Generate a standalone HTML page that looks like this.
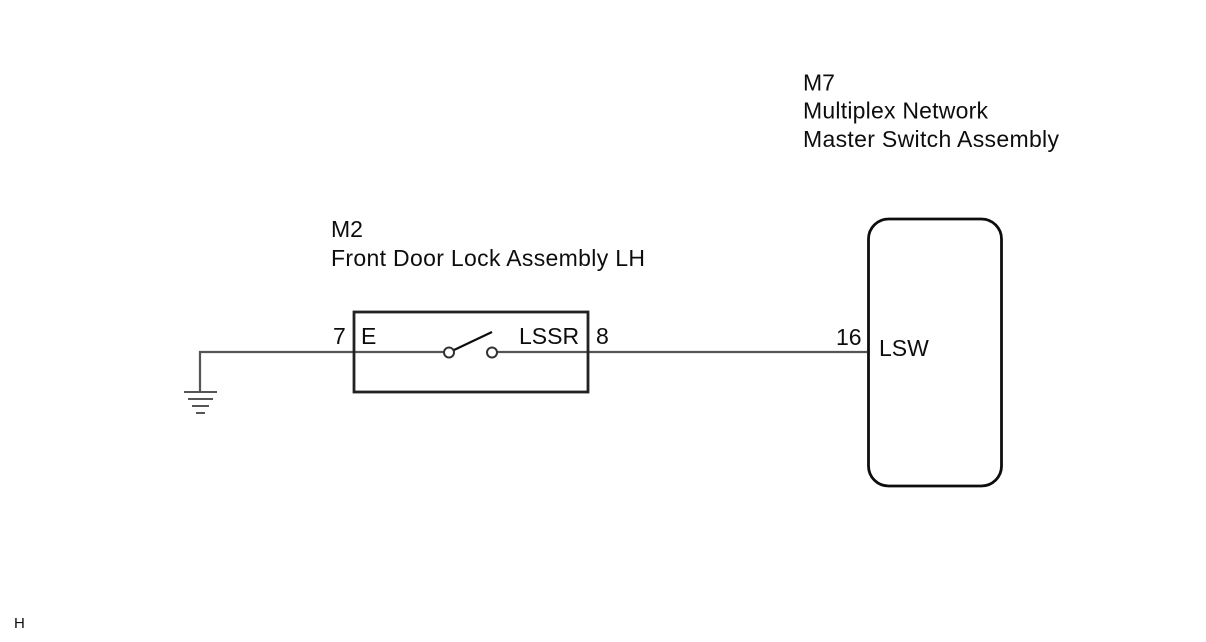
<!DOCTYPE html>
<html>
<head>
<meta charset="utf-8">
<style>
html,body{margin:0;padding:0;background:#fff;}
svg{display:block;}
text{font-family:"Liberation Sans",sans-serif;font-size:23px;fill:#111;}
</style>
</head>
<body>
<svg width="1206" height="642" viewBox="0 0 1206 642" xmlns="http://www.w3.org/2000/svg">
<defs><filter id="b" x="0" y="0" width="100%" height="100%"><feGaussianBlur stdDeviation="0.35"/></filter></defs>
<rect width="1206" height="642" fill="#fff"/>
<g filter="url(#b)">
<g fill="none" stroke="#555" stroke-width="2.2">
<path d="M200 392V352H444"/>
<path d="M497 352H867"/>
</g>
<g stroke="#555" stroke-width="2">
<line x1="184" y1="392" x2="217" y2="392"/>
<line x1="188" y1="399" x2="213" y2="399"/>
<line x1="192" y1="406" x2="209" y2="406"/>
<line x1="196" y1="413" x2="205" y2="413"/>
</g>
<rect x="354" y="312" width="234" height="80" fill="none" stroke="#222" stroke-width="2.8"/>
<circle cx="449" cy="352.500" r="5" fill="#fff" stroke="#333" stroke-width="2"/>
<circle cx="492" cy="352.500" r="5" fill="#fff" stroke="#333" stroke-width="2"/>
<line x1="454" y1="350" x2="492" y2="332" stroke="#111" stroke-width="2.2"/>
<rect x="868.500" y="219" width="133" height="267" rx="20" ry="20" fill="#fff" stroke="#111" stroke-width="2.8"/>
<text x="803" y="90.500">M7</text>
<text x="803" y="118.500" textLength="185" lengthAdjust="spacing">Multiplex Network</text>
<text x="803" y="147" textLength="256" lengthAdjust="spacing">Master Switch Assembly</text>
<text x="331" y="237">M2</text>
<text x="331" y="266" textLength="314" lengthAdjust="spacing">Front Door Lock Assembly LH</text>
<text x="333" y="344">7</text>
<text x="361" y="344">E</text>
<text x="519" y="344">LSSR</text>
<text x="596" y="344">8</text>
<text x="836" y="345">16</text>
<text x="879" y="356">LSW</text>
<text x="14" y="628" style="font-size:15px">H</text>
</g>
</svg>
</body>
</html>
